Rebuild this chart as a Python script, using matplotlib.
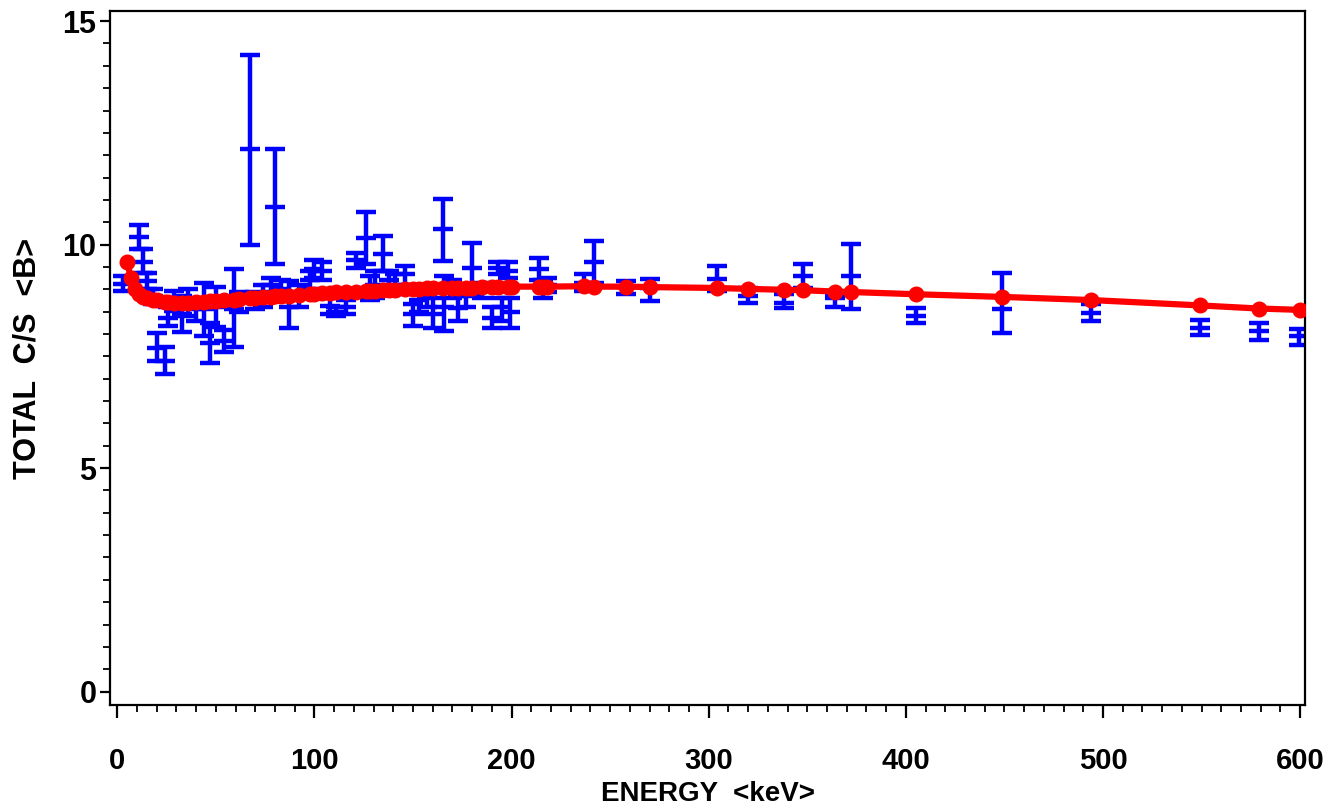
import numpy as np
import matplotlib
matplotlib.use("Agg")
import matplotlib.pyplot as plt
from matplotlib.ticker import MultipleLocator

# measured points: energy, lower bar end, center, upper bar end
energy = [3, 11, 13, 15, 18, 20, 24, 26, 29, 33, 36, 40, 44, 47, 50, 54,
          59, 62, 67.5, 70, 74, 78, 80, 83, 87, 92, 98, 100, 104, 108, 111,
          116, 121, 126, 128, 131, 135, 138, 141, 146, 150, 153, 157, 160,
          165, 165.5, 170, 173, 177, 180, 185, 190, 193, 195, 198, 199,
          214, 216, 218, 237, 242, 258, 270, 304, 320, 338, 348, 364, 372,
          405, 449, 494, 549, 579, 599.5]
lo = [8.97, 9.91, 9.37, 9.01, 8.68, 7.40, 7.10, 8.18, 8.52, 8.05, 8.40,
      8.30, 7.95, 7.35, 8.15, 7.60, 7.70, 8.50, 10.00, 8.55, 8.60, 8.95,
      9.57, 8.80, 8.14, 8.60, 9.00, 9.25, 9.20, 8.45, 8.40, 8.45, 9.48,
      9.57, 8.75, 8.80, 9.40, 9.00, 8.90, 9.10, 8.18, 8.50, 8.60, 8.14,
      9.64, 8.07, 8.80, 8.30, 8.60, 8.90, 8.80, 8.14, 9.35, 8.30, 9.26,
      8.14, 9.20, 8.80, 8.95, 8.97, 9.15, 8.90, 8.74, 8.97, 8.70, 8.59,
      9.04, 8.60, 8.56, 8.25, 8.03, 8.30, 7.98, 7.87, 7.76]
mid = [9.12, 10.16, 9.62, 9.19, 8.86, 7.69, 7.40, 8.36, 8.74, 8.45, 8.70,
       8.55, 8.55, 7.80, 8.60, 7.85, 8.55, 8.75, 12.15, 8.75, 8.85, 9.10,
       10.85, 9.00, 8.60, 8.85, 9.20, 9.45, 9.40, 8.63, 8.50, 8.60, 9.65,
       10.15, 9.00, 9.10, 9.80, 9.20, 9.10, 9.35, 8.45, 8.75, 8.85, 8.45,
       10.34, 8.60, 9.00, 8.59, 8.85, 9.48, 9.00, 8.36, 9.48, 8.60, 9.42,
       8.50, 9.45, 9.00, 9.10, 9.15, 9.62, 9.05, 9.04, 9.24, 8.86, 8.70,
       9.30, 8.80, 9.30, 8.41, 8.56, 8.48, 8.14, 8.07, 7.96]
hi = [9.30, 10.45, 9.91, 9.37, 9.01, 8.03, 7.70, 8.60, 8.97, 8.85, 9.00,
      8.80, 9.15, 8.25, 9.05, 8.10, 9.45, 8.95, 14.25, 8.95, 9.10, 9.25,
      12.15, 9.20, 9.19, 9.10, 9.40, 9.65, 9.60, 8.80, 8.60, 8.75, 9.82,
      10.72, 9.30, 9.40, 10.20, 9.40, 9.35, 9.53, 8.68, 9.00, 9.10, 8.80,
      11.03, 9.30, 9.20, 8.86, 9.05, 10.04, 9.15, 8.60, 9.60, 8.80, 9.60,
      8.80, 9.70, 9.20, 9.25, 9.35, 10.08, 9.19, 9.24, 9.53, 9.04, 8.90,
      9.57, 8.90, 10.02, 8.59, 9.37, 8.68, 8.32, 8.25, 8.12]

# model curve
fit_energy = [5, 7, 9, 11, 13, 15, 18, 20, 24, 26, 29, 33, 36, 40, 44, 47,
              50, 54, 59, 62, 67.5, 70, 74, 78, 80, 83, 87, 92, 98, 100,
              104, 108, 111, 116, 121, 126, 128, 131, 135, 138, 141, 146,
              150, 153, 157, 160, 165, 170, 173, 177, 180, 185, 190, 193,
              198, 200, 214, 216, 218, 237, 242, 258, 270, 304, 320, 338,
              348, 364, 372, 405, 449, 494, 549, 579, 600]
fit_value = [9.62, 9.25, 9.00, 8.90, 8.83, 8.80, 8.77, 8.75, 8.72, 8.71,
             8.70, 8.70, 8.70, 8.71, 8.72, 8.73, 8.74, 8.75, 8.77, 8.78,
             8.80, 8.81, 8.82, 8.83, 8.84, 8.85, 8.86, 8.88, 8.90, 8.90,
             8.91, 8.92, 8.93, 8.94, 8.95, 8.96, 8.97, 8.97, 8.98, 8.99,
             8.99, 9.00, 9.01, 9.01, 9.02, 9.02, 9.03, 9.03, 9.04, 9.04,
             9.04, 9.05, 9.05, 9.05, 9.06, 9.06, 9.06, 9.06, 9.06, 9.07,
             9.06, 9.06, 9.05, 9.03, 9.01, 8.99, 8.98, 8.95, 8.94, 8.89,
             8.83, 8.76, 8.64, 8.57, 8.54]

plt.rcParams["font.family"] = ["Liberation Sans", "DejaVu Sans"]
plt.rcParams["font.weight"] = "bold"

fig = plt.figure(figsize=(13.29, 8.08), dpi=100)
ax = fig.add_axes([0.083, 0.1275, 0.899, 0.8585])

e = np.array(energy)
c = np.array(mid)
yerr = [c - np.array(lo), np.array(hi) - c]
ax.errorbar(e, c, yerr=yerr, fmt="none", ecolor="#0000ff",
            elinewidth=3.2, capsize=7.5, capthick=3.2, zorder=2)
# center tick of each bar
ax.plot(e, c, linestyle="none", marker="_", markersize=15,
        markeredgewidth=3.2, color="#0000ff", zorder=2)

ax.plot(fit_energy, fit_value, color="#ff0000", linewidth=4.5,
        marker="o", markersize=10.5, zorder=3)

ax.set_xlim(-3.5, 602.5)
ax.set_ylim(-0.3, 15.22)
ax.xaxis.set_major_locator(MultipleLocator(100))
ax.xaxis.set_minor_locator(MultipleLocator(10))
ax.yaxis.set_major_locator(MultipleLocator(5))
ax.yaxis.set_minor_locator(MultipleLocator(0.5))

for s in ax.spines.values():
    s.set_linewidth(1.6)

ax.tick_params(axis="x", which="major", length=9, width=1.6,
               labelsize=21, pad=21)
ax.tick_params(axis="y", which="major", length=7, width=1.6,
               labelsize=22, pad=3)
ax.tick_params(which="minor", length=5, width=1.3)

ax.set_xlabel("ENERGY  <keV>", fontsize=20, fontweight="bold")
ax.xaxis.set_label_coords(0.5, -0.11)
ax.set_ylabel("TOTAL  C/S  <B>", fontsize=22, fontweight="bold", labelpad=14)

fig.savefig("out.png", dpi=100)
